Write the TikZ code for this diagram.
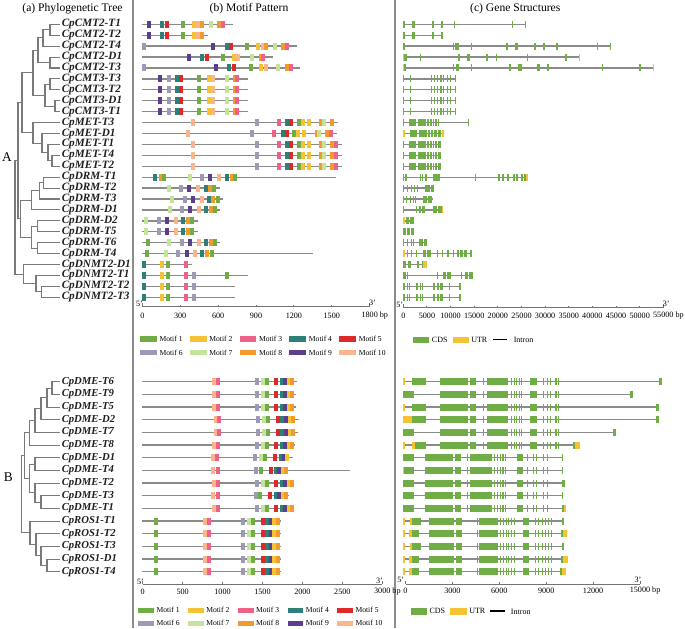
\documentclass[tikz,border=0pt]{standalone}
\usepackage{fontspec}
\setmainfont{Liberation Serif}
\definecolor{m1}{HTML}{70AD47}
\definecolor{m2}{HTML}{F5C236}
\definecolor{m3}{HTML}{EE6189}
\definecolor{m4}{HTML}{2E7F78}
\definecolor{m5}{HTML}{DD2A28}
\definecolor{m6}{HTML}{9E99B4}
\definecolor{m7}{HTML}{C4E49B}
\definecolor{m8}{HTML}{F39A2C}
\definecolor{m9}{HTML}{5B3E8C}
\definecolor{m10}{HTML}{FBB58C}
\definecolor{cdsc}{HTML}{70AD47}
\definecolor{utrc}{HTML}{F5C236}
\definecolor{treeg}{HTML}{7A7A7A}
\definecolor{lineg}{HTML}{8A8A8A}
\definecolor{sepg}{HTML}{8C8C8C}
\newcommand\motifrow[3]{%
  \draw[bbline] (142.3,#1) -- (#2,#1);
  \edef\tmplist{#3}%
  \foreach \mx/\mc in \tmplist {\fill[fill=m\mc] (\mx-2,#1-3.5) rectangle (\mx+2,#1+3.5);}%
}
\newcommand\gline[2]{\draw[bbline] (403.3,#1) -- (#2,#1);}
\newcommand\cds[2]{\edef\tmplist{#2}\foreach \ga/\gb in \tmplist {\fill[cdsc] (\ga,#1-3.5) rectangle (\gb,#1+3.5);}}
\newcommand\utr[2]{\edef\tmplist{#2}\foreach \ga/\gb in \tmplist {\fill[utrc] (\ga,#1-3.5) rectangle (\gb,#1+3.5);}}
\def\cmtthree{403.3/404.3,409.7/410.7,430.7/432.3,433.7/435.3,436.7/438.3,439.7/441.7,443/444.2,447.3/448.3,449.5/450.5,455/455.9}
\def\metl{409/416,418.3/426,427/429,430/432,433/434.3,435.3/436.7}
\def\dmeA{425/453.3,455.3/460.7,467.3/468.3,470/491.7,494/495.2,496.8/498,499.6/500.8,502.4/503.6,505.2/506.4,517.3/523.3,527.3/528.3,533.3/534.3,536/537,543.3/544.3,546.7/548}
\def\dmeB{440/468.3,470/476,483.3/484.3,486.7/508.3,511.2/512.2,513.5/514.5,516.2/517.2,518.8/519.8,521.2/522.2,530/536.7,542.7/544,546.7/548,550/551.3,555/556.7,558.3/559.3}
\def\rosA{429/454.3,456/462.3,476.7/477.7,479.3/498.3,500.2/501.2,502.8/503.8,505.5/506.5,508.2/509.2,510.8/511.8,513.5/514.5,522.7/529.3,535/536,538.3/539.3,541.7/542.7,545/546,548.3/549.3,550.7/551.7}
\def\dnmtl{403.3/405,406.7/408,409/410,415.7/418,420/421.3,422.3/423.3,432.7/435,437.3/439.3,440.3/442.7,449.3/450.3,459.3/460.7}
\def\mcmt{160/9,169.3/6,176.7/4,180.7/5,198.7/1,209/2,213.3/10,226.7/7,234.7/8,237.3/3}
\def\mmet{192.7/10,256.7/6,279/3,287.3/4,291.3/5,299/1,302.7/2,309/2,321.3/8,324/7,332/8,336/3}
\def\mdrm{146/7,159.3/6,167.3/9,176/10,183.3/4,188.3/8,192.3/1}
\def\mdnmt{144.3/4,162.3/2,168.3/1,186/3}
\def\mdmeA{214.3/10,218/3,257.3/6,263/7,266.7/1,276/5,281.5/4,284.7/9,288.7/2,292.3/8}
\def\mdmeB{215.7/10,219.3/3,258.3/6,264/7,268/1,277.7/5,282.3/4,285.7/9,290/2,293.3/8}
\def\mros{155.7/1,205/10,209/3,243.3/6,249/7,252.7/1,262.7/5,267.3/4,270.7/9,274.3/2,277.7/8}
\begin{document}
\begin{tikzpicture}[x=0.75pt,y=-0.75pt,
  tree/.style={draw=treeg,line width=0.8pt},
  bbline/.style={draw=lineg,line width=1pt},
  sep/.style={draw=sepg,line width=1.5pt},
  ax/.style={draw=black!55,line width=0.7pt},
  axl/.style={inner sep=0pt,font=\fontsize{6.1}{6.5}\selectfont},
  leafA/.style={anchor=west,inner sep=0pt,text=black!88,font=\fontsize{8.4}{8.4}\selectfont\bfseries\itshape},
  leafB/.style={anchor=west,inner sep=0pt,text=black!88,font=\fontsize{8}{8}\selectfont\bfseries\itshape},
  ttl/.style={inner sep=0pt,font=\fontsize{8.7}{9}\selectfont},
  lgt/.style={anchor=west,inner sep=0pt,font=\fontsize{5.7}{6}\selectfont},
  glt/.style={anchor=west,inner sep=0pt,font=\fontsize{6}{6}\selectfont},
  sect/.style={inner sep=0pt,font=\fontsize{10}{10}\selectfont}]
\useasboundingbox (0,0) rectangle (685,628);
\fill[white] (0,0) rectangle (685,628);
% separators
\draw[sep] (133.3,0) -- (133.3,628);
\draw[sep] (394.5,0) -- (394.5,628);
% titles
\node[ttl] (ta) at (72.5,8.5) {(a) Phylogenetic Tree};
\node[ttl] (tb) at (249,8.5) {(b) Motif Pattern};
\node[ttl] (tc) at (515.3,8.5) {(c) Gene Structures};
\node[sect] (sA) at (7,157.5) {A};
\node[sect] (sB) at (8.3,476.7) {B};
% ---------- tree A ----------
\foreach \i/\y/\t in {1/24.3/CpCMT2-T1,2/35.22/CpCMT2-T2,3/46.14/CpCMT2-T4,4/57.06/CpCMT2-D1,5/67.98/CpCMT2-T3,
  6/78.9/CpCMT3-T3,7/89.82/CpCMT3-T2,8/100.74/CpCMT3-D1,9/111.66/CpCMT3-T1,10/122.58/CpMET-T3,
  11/133.5/CpMET-D1,12/144.42/CpMET-T1,13/155.34/CpMET-T4,14/166.26/CpMET-T2,15/177.18/CpDRM-T1,
  16/188.1/CpDRM-T2,17/199.02/CpDRM-T3,18/209.94/CpDRM-D1,19/220.86/CpDRM-D2,20/231.78/CpDRM-T5,
  21/242.7/CpDRM-T6,22/253.62/CpDRM-T4,23/264.54/CpDNMT2-D1,24/275.46/CpDNMT2-T1,25/286.38/CpDNMT2-T2,26/297.3/CpDNMT2-T3}
  {\coordinate (la\i) at (60,\y); \node[leafA] (LA\i) at (61.5,\y) {\t};}
\coordinate (a1) at (50,29.76);
\coordinate (a2) at (43,37.95);
\coordinate (a3) at (50,62.52);
\coordinate (a4) at (38,50.24);
\coordinate (a5) at (50,84.36);
\coordinate (a6) at (55,106.2);
\coordinate (a7) at (45,95.28);
\coordinate (a8) at (33,72.76);
\coordinate (m1) at (52,160.8);
\coordinate (m2) at (48,152.61);
\coordinate (m3) at (42,143.06);
\coordinate (m4) at (33,132.82);
\coordinate (c1) at (22,102.79);
\coordinate (d1) at (43.3,182.64);
\coordinate (d2) at (39.3,190.83);
\coordinate (d3) at (31.7,200.39);
\coordinate (d4) at (37.3,226.32);
\coordinate (d5) at (37.3,248.16);
\coordinate (d6) at (31.7,237.24);
\coordinate (d7) at (20.7,218.81);
\coordinate (x1) at (18,160.8);
\coordinate (n1) at (41.7,291.84);
\coordinate (n2) at (36,283.65);
\coordinate (n3) at (23.3,274.1);
\coordinate (rA) at (15,217.45);
\foreach \p/\c in {a1/la1,a1/la2,a2/a1,a2/la3,a3/la4,a3/la5,a4/a2,a4/a3,a5/la6,a5/la7,a6/la8,a6/la9,
  a7/a5,a7/a6,a8/a4,a8/a7,m1/la13,m1/la14,m2/la12,m2/m1,m3/la11,m3/m2,m4/la10,m4/m3,c1/a8,c1/m4,
  d1/la15,d1/la16,d2/d1,d2/la17,d3/d2,d3/la18,d4/la19,d4/la20,d5/la21,d5/la22,d6/d4,d6/d5,d7/d3,d7/d6,
  x1/c1,x1/d7,n1/la25,n1/la26,n2/la24,n2/n1,n3/la23,n3/n2,rA/x1,rA/n3}
  {\draw[tree] (\p) |- (\c);}
% ---------- tree B ----------
\foreach \i/\y/\t in {1/381.7/CpDME-T6,2/394.37/CpDME-T9,3/407.04/CpDME-T5,4/419.71/CpDME-D2,
  5/432.38/CpDME-T7,6/445.05/CpDME-T8,7/457.72/CpDME-D1,8/470.39/CpDME-T4,9/483.06/CpDME-T2,
  10/495.73/CpDME-T3,11/508.4/CpDME-T1,12/521.07/CpROS1-T1,13/533.74/CpROS1-T2,14/546.41/CpROS1-T3,
  15/559.08/CpROS1-D1,16/571.75/CpROS1-T4}
  {\coordinate (lb\i) at (60,\y); \node[leafB] (LB\i) at (61.5,\y) {\t};}
\coordinate (b1) at (52,388.04);
\coordinate (b2) at (47,397.54);
\coordinate (b3) at (41,408.63);
\coordinate (b4) at (35,420.5);
\coordinate (b5) at (29.3,432.78);
\coordinate (b6) at (35,464.06);
\coordinate (b7) at (41,502.07);
\coordinate (b8) at (35,492.56);
\coordinate (b9) at (29.3,478.31);
\coordinate (b10) at (24.5,455.55);
\coordinate (r1) at (47,565.42);
\coordinate (r2) at (41,555.92);
\coordinate (r3) at (36,544.83);
\coordinate (r4) at (30,532.95);
\coordinate (rB) at (21.5,494.25);
\foreach \p/\c in {b1/lb1,b1/lb2,b2/b1,b2/lb3,b3/b2,b3/lb4,b4/b3,b4/lb5,b5/b4,b5/lb6,b6/lb7,b6/lb8,
  b7/lb10,b7/lb11,b8/lb9,b8/b7,b9/b6,b9/b8,b10/b5,b10/b9,r1/lb15,r1/lb16,r2/lb14,r2/r1,r3/lb13,r3/r2,
  r4/lb12,r4/r3,rB/b10,rB/r4}
  {\draw[tree] (\p) |- (\c);}
% ---------- motifs A ----------
\motifrow{24.3}{232.7}{149/9,162.3/4,167.3/5,183.3/1,194/2,198/10,201.7/8,211.3/7,219.3/8,223.3/3}
\motifrow{35.22}{208.3}{149/9,162.3/4,167.3/5,183.3/1,194/2,198/10,201.7/8}
\motifrow{46.14}{296.7}{144/6,212.7/9,226.7/4,230.7/5,247.3/1,258/2,262.7/10,266/8,275.3/7,283.3/8,286.7/3}
\motifrow{57.06}{273.3}{189/9,202.3/4,207.3/5,223.3/1,234/2,238.3/10,251.7/7,261/8,263.3/3}
\motifrow{67.98}{300}{144/6,216/9,229.3/4,234.3/5,250.7/1,261.3/2,265.7/10,278.3/7,286.7/8,290.7/3}
\motifrow{78.9}{248.3}{\mcmt}
\motifrow{89.82}{248.3}{\mcmt}
\motifrow{100.74}{248.3}{\mcmt}
\motifrow{111.66}{248.3}{\mcmt}
\motifrow{122.58}{338.3}{192.7/10,256.7/6,279/3,286.7/4,291/5,298.7/1,302.7/2,309/2,321/8,324/7,331.7/8}
\motifrow{133.5}{337.3}{188.3/10,252/6,274.3/3,282.7/4,286.7/5,294.3/1,297.7/2,304/2,316.7/8,319.3/7,327.3/8,331/3}
\motifrow{144.42}{341.7}{\mmet}
\motifrow{155.34}{341.7}{\mmet}
\motifrow{166.26}{341.7}{\mmet}
\motifrow{177.18}{336}{155/4,160.7/8,164.3/1,190/7,202.3/6,210/9,219.3/10,226.7/4,231.7/8,235.3/1}
\motifrow{188.1}{220}{169/7,181/6,189/9,198.3/10,205.7/4,210/8,214.3/1}
\motifrow{199.02}{223.3}{172.3/7,185/6,192.7/9,201.7/10,208.7/4,213.3/8,217.7/1}
\motifrow{209.94}{220}{169.7/7,182/6,190/9,199/10,206/4,210.7/8,215/1}
\motifrow{220.86}{198.3}{\mdrm}
\motifrow{231.78}{198.3}{\mdrm}
\motifrow{242.7}{220}{148.3/1,169.3/7,181.7/6,190/9,199/10,206/4,210.7/8,215/1}
\motifrow{253.62}{313.3}{147.3/1,165.7/7,178.3/6,186.7/9,195.3/10,202.3/4,207.3/8,211.7/1}
\motifrow{264.54}{191.7}{\mdnmt}
\motifrow{275.46}{248.3}{\mdnmt,194/6,226.7/1}
\motifrow{286.38}{235}{\mdnmt,194/6}
\motifrow{297.3}{235}{\mdnmt,194/6}
% axis motif A
\draw[ax] (142.3,306.7) -- (369.7,306.7);
\foreach \k in {1,...,5} {\draw[ax] ({142.3+37.9*\k},306.7) -- ++(0,-2);}
\draw[ax] (142.3,306.7) -- ++(0,-3.5);
\draw[ax] (369.7,306.7) -- ++(0,-3.5);
\foreach \k/\t in {0/0,1/300,2/600,3/900,4/1200,5/1500}
  {\node[axl] (axa\k) at ({142.3+37.9*\k},315.7) {\t};}
\node[axl] (axa6) at (369.7,315.7) {1800\rlap{ bp}};
\node[axl] (pa5) at (139.5,303.5) {5'};
\node[axl] (pa3) at (372.5,302.5) {3'};
% legend motif A
\foreach \k/\n in {0/1,1/2,2/3,3/4,4/5}
  {\fill[fill=m\n] ({140+49.8*\k},336) rectangle ++(16.7,5.7);
   \node[lgt] (lga\n) at ({159.3+49.8*\k},338.8) {Motif \n};}
\foreach \k/\n in {0/6,1/7,2/8,3/9,4/10}
  {\fill[fill=m\n] ({140+49.8*\k},349.7) rectangle ++(16.7,5.7);
   \node[lgt] (lga\n) at ({159.3+49.8*\k},352.5) {Motif \n};}
% ---------- genes A ----------
\gline{24.3}{525.7}
\cds{24.3}{403.3/405,412/414.7,431.7/433.7,440.7/442.7,454/455,511.7/513,525/526}
\gline{35.22}{442.7}
\cds{35.22}{403.3/405,412/414.7,431.7/433.7,440.7/442.7}
\gline{46.14}{611}
\cds{46.14}{403.3/405,452.7/454,455.3/459,471.3/472.3,506.3/508,515.3/518,534/536,543.3/545,556.3/557.7,596.7/598.3,609.7/610.9}
\gline{57.06}{580}
\cds{57.06}{404.3/407.3,420.3/421.3,458.3/460,467.3/470,486.3/488.3,496/497.3,527.3/528.3,565.3/566.7}
\utr{57.06}{403.3/404.3,578.7/580}
\gline{67.98}{654}
\cds{67.98}{404.3/406.3,452.7/453.7,455.7/459.3,471.3/472.3,509.3/511.3,518.3/521.7,537.3/540,547.3/549,601.7/603,639.3/640.7}
\utr{67.98}{403.3/404.3,652.7/654}
\foreach \y in {78.9,89.82,100.74,111.66} {\gline{\y}{455.9}\cds{\y}{\cmtthree}}
\gline{122.58}{468.3}
\cds{122.58}{403.3/404.3,\metl,438.3/439.3,467.5/468.3}
\gline{133.5}{444}
\cds{133.5}{410/416.7,419.3/426.7,428.3/430.3,431.3/433.3,434.3/436.7,438.3/440.7}
\utr{133.5}{403.3/405,442/444}
\foreach \y in {144.42,155.34,166.26} {\gline{\y}{441}\cds{\y}{403.3/404.3,\metl,438.3/440.7}}
\gline{177.18}{528.3}
\cds{177.18}{403.3/404,405.3/407.3,420/421,422/423.3,425/426.7,432.7/436.7,437.3/440,474.6/475.4,497.7/500,502.3/504,507.3/509.3,512.7/514.7,515.7/518.3,520.7/522.7,523.7/526}
\utr{177.18}{526/528.3}
\gline{188.1}{434}
\cds{188.1}{403.3/404.3,407.3/408.3,411.3/412.3,414/415,416.7/417.7,425/430,430.7/434}
\gline{199.02}{432.7}
\cds{199.02}{403.3/404.3,406/407,410/411,412.7/413.7,415/416,423.3/427.3,428.3/431.7}
\gline{209.94}{442.7}
\cds{209.94}{403.3/404.3,416/416.9,419.3/420.7,422.3/425.3,433.3/437.3,438.3/441.7}
\utr{209.94}{441.7/442.7}
\gline{220.86}{414}
\utr{220.86}{403.3/405.3}
\cds{220.86}{406/409,410/414}
\cds{231.78}{403.3/406,407/410,411/414}
\gline{242.7}{427.3}
\cds{242.7}{403.3/404.3,407.3/408.3,410.7/411.7,413.3/414.3,419.3/423,424/427.3}
\gline{253.62}{472}
\utr{253.62}{403.3/404.7}
\cds{253.62}{406.7/407.7,411.3/412.3,416/416.9,422.7/426,427/430.7,436.7/437.7,441.7/443.3,447.3/448.7,452.7/454,456.7/459,460/463,464/466.7,470/472}
\gline{264.54}{427.3}
\cds{264.54}{403.3/406,408.3/410.7,416.7/419.3,421.7/423.3}
\utr{264.54}{423.3/427.3}
\gline{275.46}{472.7}
\cds{275.46}{403.3/406,407.3/408.3,436.7/437.7,443.3/446.3,447.3/450.7,461/462.3,465.3/468.3,469.3/472.7}
\foreach \y in {286.38,297.3} {\gline{\y}{460.7}\cds{\y}{\dnmtl}}
% axis genes A
\draw[ax] (403.3,307.5) -- (663.3,307.5);
\foreach \k in {1,...,10} {\draw[ax] ({403.3+23.636*\k},307.5) -- ++(0,-2);}
\draw[ax] (403.3,307.5) -- ++(0,-3.5);
\draw[ax] (663.3,307.5) -- ++(0,-3.5);
\foreach \k/\t in {0/0,1/5000,2/10000,3/15000,4/20000,5/25000,6/30000,7/35000,8/40000,9/45000,10/50000}
  {\node[axl] (axc\k) at ({403.3+23.636*\k},315.7) {\t};}
\node[axl] (axc11) at (663.3,315.7) {55000\rlap{ bp}};
\node[axl] (pc5) at (399.7,304.5) {5'};
\node[axl] (pc3) at (666.3,303.5) {3'};
% legend genes A
\fill[cdsc] (412.7,336.5) rectangle (429.3,343);
\node[glt] (gcA) at (431.7,339.7) {CDS};
\fill[utrc] (452.7,336.5) rectangle (469.3,343);
\node[glt] (guA) at (471,339.7) {UTR};
\coordinate (giA1) at (493.3,339.5);
\coordinate (giA2) at (507.3,339.5);
\draw[black,line width=1.1pt] (giA1) -- (giA2);
\node[glt] (giA) at (513.5,340.2) {Intron};
% ---------- motifs B ----------
\motifrow{381.7}{297.3}{\mdmeA}
\motifrow{394.37}{296}{\mdmeA}
\motifrow{407.04}{296}{\mdmeA}
\motifrow{419.71}{299}{\mdmeB}
\motifrow{432.38}{297.7}{\mdmeB}
\motifrow{445.05}{295}{\mdmeA}
\motifrow{457.72}{293.3}{213.3/10,217.3/3,255.3/6,261/7,265/1,275.3/5,280.7/4,284/9,287.3/2}
\motifrow{470.39}{350}{213.3/10,217.7/3,255.7/6,260.7/1,270.7/5,275.7/4,279/9,282.7/2,286/8}
\motifrow{483.06}{294.3}{\mdmeA}
\motifrow{495.73}{289.3}{213.3/10,217.7/3,255.7/6,260/1,270/5,275.7/4,279/9,282.7/2,286/8}
\motifrow{508.4}{294}{\mdmeA}
\foreach \y in {521.07,533.74,546.41,559.08,571.75} {\motifrow{\y}{281}{\mros}}
% axis motif B
\draw[ax] (142.7,584) -- (382.3,584);
\foreach \k in {1,...,5} {\draw[ax] ({142.7+39.93*\k},584) -- ++(0,-2);}
\draw[ax] (142.7,584) -- ++(0,-3.5);
\draw[ax] (382.3,584) -- ++(0,-3.5);
\foreach \k/\t in {0/0,1/500,2/1000,3/1500,4/2000,5/2500}
  {\node[axl] (axb\k) at ({142.7+39.93*\k},591.7) {\t};}
\node[axl] (axb6) at (382.3,591.7) {3000\rlap{ bp}};
\node[axl] (pb5) at (140.5,581.5) {5'};
\node[axl] (pb3) at (379.5,580.5) {3'};
% legend motif B
\foreach \k/\n in {0/1,1/2,2/3,3/4,4/5}
  {\fill[fill=m\n] ({138.3+49.75*\k},607.5) rectangle ++(15.7,5.7);
   \node[lgt] (lgb\n) at ({156.3+49.75*\k},610.3) {Motif \n};}
\foreach \k/\n in {0/6,1/7,2/8,3/9,4/10}
  {\fill[fill=m\n] ({138.3+49.75*\k},620.5) rectangle ++(15.7,5.7);
   \node[lgt] (lgb\n) at ({156.3+49.75*\k},623.3) {Motif \n};}
% ---------- genes B ----------
\gline{381.7}{661.7}
\utr{381.7}{403.3/405}
\cds{381.7}{412/426,\dmeB,658.5/661.7}
\gline{394.37}{633}
\cds{394.37}{403.3/414,\dmeB,630/633}
\gline{407.04}{659}
\utr{407.04}{403.3/404.7}
\cds{407.04}{412/426,\dmeB,656/659}
\gline{419.71}{659}
\utr{419.71}{403.3/412}
\cds{419.71}{412/426,\dmeB,656/659}
\gline{432.38}{615.5}
\cds{432.38}{403.3/414,\dmeB,613/615.5}
\gline{445.05}{580}
\utr{445.05}{403.3/404.7,411.7/415,575/580}
\cds{445.05}{415/426,\dmeB,572.7/575}
\gline{457.72}{562.7}
\cds{457.72}{403.3/414,\dmeA,561.8/562.7}
\gline{470.39}{563.3}
\utr{470.39}{403.3/404.3}
\cds{470.39}{404.3/414,\dmeA,562.3/563.3}
\gline{483.06}{564.7}
\cds{483.06}{403.3/414,\dmeA,561.7/564.7}
\gline{495.73}{562.7}
\cds{495.73}{403.3/414,\dmeA,561.7/562.7}
\gline{508.4}{566}
\cds{508.4}{403.3/414,\dmeA,561.7/564}
\utr{508.4}{564/566}
\gline{521.07}{564}
\utr{521.07}{403.3/405.3,410/412.3}
\cds{521.07}{412.3/420.7,\rosA,561.7/564}
\gline{533.74}{566.7}
\utr{533.74}{403.3/405.3,409/412,562.7/566.7}
\cds{533.74}{412/419.3,\rosA,560.7/562.7}
\gline{546.41}{564}
\utr{546.41}{403.3/405.3,410/412.3}
\cds{546.41}{412.3/420.7,\rosA,561.7/564}
\gline{559.08}{568.3}
\utr{559.08}{403.3/405.3,409/412,562.7/568.3}
\cds{559.08}{412/419.3,\rosA,560.7/562.7}
\gline{571.75}{566}
\utr{571.75}{403.3/405.3,409/412,562/566}
\cds{571.75}{412/419.3,\rosA,560/562}
% axis genes B
\draw[ax] (405.5,584) -- (640,584);
\foreach \k in {1,...,4} {\draw[ax] ({405.5+46.9*\k},584) -- ++(0,-2);}
\draw[ax] (405.5,584) -- ++(0,-3.5);
\draw[ax] (640,584) -- ++(0,-3.5);
\foreach \k/\t in {0/0,1/3000,2/6000,3/9000,4/12000}
  {\node[axl] (axd\k) at ({405.5+46.9*\k},590.5) {\t};}
\node[axl] (axd5) at (640,590.5) {15000\rlap{ bp}};
\node[axl] (pd5) at (400.8,580) {5'};
\node[axl] (pd3) at (638,579.5) {3'};
% legend genes B
\fill[cdsc] (410.7,608) rectangle (427.3,614.5);
\node[glt] (gcB) at (429.3,611.2) {CDS};
\fill[utrc] (450,608) rectangle (466.7,614.5);
\node[glt] (guB) at (469,611.2) {UTR};
\coordinate (giB1) at (490,611);
\coordinate (giB2) at (505,611);
\draw[black,line width=1.1pt] (giB1) -- (giB2);
\node[glt] (giB) at (510.7,611.7) {Intron};
\end{tikzpicture}
\end{document}
